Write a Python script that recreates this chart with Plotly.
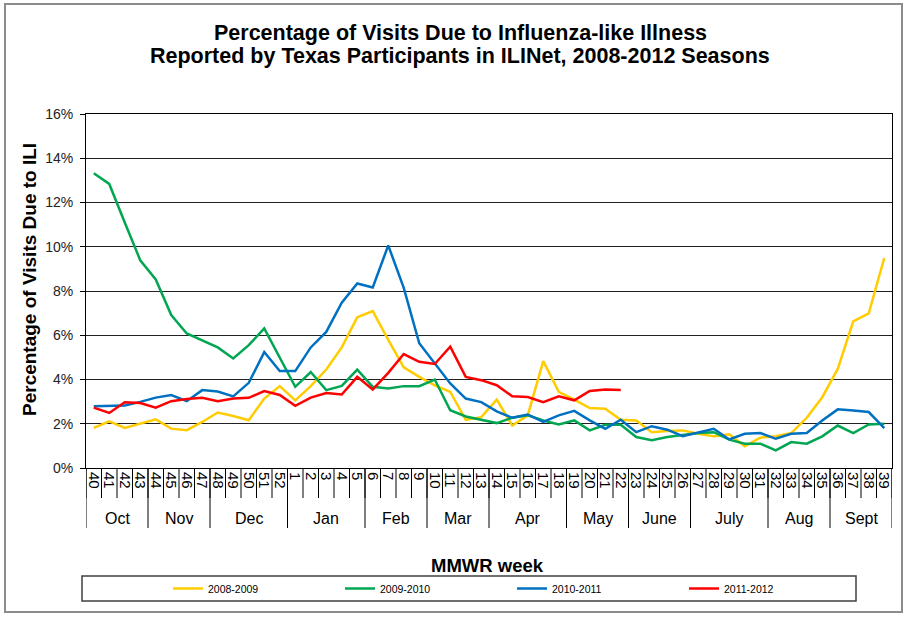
import plotly.graph_objects as go

weeks = ["40", "41", "42", "43", "44", "45", "46", "47", "48", "49", "50", "51", "52",
         "1", "2", "3", "4", "5", "6", "7", "8", "9", "10", "11", "12", "13",
         "14", "15", "16", "17", "18", "19", "20", "21", "22", "23", "24", "25", "26",
         "27", "28", "29", "30", "31", "32", "33", "34", "35", "36", "37", "38", "39"]
months = ["Oct", "Nov", "Dec", "Jan", "Feb", "Mar", "Apr", "May", "June", "July", "Aug", "Sept"]
weeks_per_month = [4, 4, 5, 5, 4, 4, 5, 4, 4, 5, 4, 4]

s0809 = [1.81, 2.11, 1.81, 2.01, 2.20, 1.78, 1.71, 2.08, 2.51, 2.35, 2.16, 3.14, 3.70,
         3.06, 3.70, 4.45, 5.45, 6.81, 7.09, 5.79, 4.55, 4.12, 3.74, 3.44, 2.18, 2.30,
         3.09, 1.92, 2.38, 4.83, 3.44, 3.09, 2.71, 2.68, 2.18, 2.15, 1.62, 1.67, 1.70,
         1.55, 1.43, 1.52, 0.98, 1.37, 1.44, 1.58, 2.27, 3.20, 4.48, 6.63, 6.99, 9.49]
s0910 = [13.32, 12.84, 11.10, 9.39, 8.52, 6.91, 6.08, 5.75, 5.45, 4.95, 5.55, 6.31, 5.00,
         3.67, 4.34, 3.52, 3.71, 4.45, 3.67, 3.59, 3.70, 3.70, 4.00, 2.61, 2.33, 2.18,
         2.03, 2.27, 2.38, 2.15, 1.97, 2.15, 1.70, 1.95, 1.95, 1.40, 1.25, 1.40, 1.50,
         1.58, 1.62, 1.28, 1.10, 1.10, 0.80, 1.17, 1.10, 1.43, 1.92, 1.58, 1.97, 2.00]
s1011 = [2.79, 2.82, 2.82, 2.99, 3.18, 3.30, 3.02, 3.52, 3.46, 3.24, 3.85, 5.24, 4.38,
         4.38, 5.45, 6.15, 7.47, 8.34, 8.16, 10.06, 8.14, 5.64, 4.73, 3.82, 3.14, 2.98,
         2.56, 2.27, 2.42, 2.08, 2.38, 2.58, 2.15, 1.77, 2.18, 1.62, 1.89, 1.73, 1.44,
         1.62, 1.77, 1.29, 1.55, 1.58, 1.32, 1.55, 1.58, 2.15, 2.65, 2.60, 2.53, 1.80]
s1112 = [2.73, 2.49, 2.97, 2.94, 2.73, 3.02, 3.12, 3.17, 3.02, 3.14, 3.17, 3.48, 3.30,
         2.81, 3.18, 3.39, 3.32, 4.12, 3.55, 4.30, 5.15, 4.80, 4.70, 5.48, 4.12, 3.97,
         3.74, 3.24, 3.21, 2.98, 3.24, 3.06, 3.48, 3.55, 3.52]

seasons = ["2008-2009", "2009-2010", "2010-2011", "2011-2012"]
colors = ["#FFCC00", "#00A651", "#0070C0", "#FF0000"]
FONT = "Liberation Sans, Arial, sans-serif"

fig = go.Figure()
for name, vals, col in zip(seasons, [s0809, s0910, s1011, s1112], colors):
    fig.add_trace(go.Scatter(x=weeks[:len(vals)], y=vals, name=name, mode="lines",
                             line=dict(color=col, width=2.5)))

# pixel -> paper helpers (plot area: x 86..892, y 114..468)
def py(Y):
    return (468 - Y) / 354.0

def px(X):
    return (X - 86) / 806.0

def note(text, x, y, size, xref="paper", angle=0):
    return dict(text=text, xref=xref, yref="paper", x=x, y=y, textangle=angle,
                xanchor="center", yanchor="middle", showarrow=False,
                font=dict(size=size, color="black", family=FONT))

shapes = []
annotations = []
# cell lines under every week
for i in range(len(weeks) + 1):
    shapes.append(dict(type="line", xref="x", yref="paper", x0=i - 0.5, x1=i - 0.5,
                       y0=0, y1=py(498), line=dict(color="black", width=1)))
# month separators + labels
pos = 0
for m, n in zip(months, weeks_per_month):
    shapes.append(dict(type="line", xref="x", yref="paper", x0=pos - 0.5, x1=pos - 0.5,
                       y0=0, y1=py(528), line=dict(color="black", width=1)))
    annotations.append(note(m, pos + (n - 1) / 2, py(518), 16, xref="x"))
    pos += n
shapes.append(dict(type="line", xref="x", yref="paper", x0=pos - 0.5, x1=pos - 0.5,
                   y0=0, y1=py(528), line=dict(color="black", width=1)))
# legend box
shapes.append(dict(type="rect", xref="paper", yref="paper", x0=px(82), x1=px(856),
                   y0=py(576), y1=py(601), line=dict(color="#404040", width=1.5)))
# outer frame
shapes.append(dict(type="rect", xref="paper", yref="paper", x0=px(5), x1=px(902),
                   y0=py(4), y1=py(612), line=dict(color="#8c8c8c", width=2)))

annotations.append(note("<b>Percentage of Visits Due to Influenza-like Illness</b>",
                        px(460), py(33), 21.5))
annotations.append(note("<b>Reported by Texas Participants in ILINet, 2008-2012 Seasons</b>",
                        px(460), py(56), 21.5))
annotations.append(note("<b>Percentage of Visits Due to ILI</b>", px(29), py(280), 19, angle=-90))
annotations.append(note("<b>MMWR week</b>", px(487), py(565), 18.5))

fig.update_layout(
    width=908, height=619,
    margin=dict(l=86, r=16, t=114, b=151),
    paper_bgcolor="white", plot_bgcolor="white",
    font=dict(family=FONT, color="black"),
    showlegend=True,
    legend=dict(orientation="h", x=px(168), y=py(588.5), xanchor="left", yanchor="middle",
                entrywidth=127, entrywidthmode="pixels", font=dict(size=10.5),
                bgcolor="rgba(0,0,0,0)", itemclick=False),
    shapes=shapes,
    annotations=annotations,
)
fig.update_xaxes(type="category", categoryorder="array", categoryarray=weeks,
                 tickmode="array", tickvals=weeks, ticktext=weeks,
                 range=[-0.5, len(weeks) - 0.5], tickangle=90, ticks="",
                 tickfont=dict(size=15), showgrid=False, showline=True,
                 linecolor="black", linewidth=1, mirror=True)
fig.update_yaxes(range=[0, 16], dtick=2, ticksuffix="%", ticks="outside", ticklen=5,
                 tickcolor="black", tickfont=dict(size=14, color="#222"),
                 ticklabelstandoff=4,
                 showgrid=True, gridcolor="#222", gridwidth=1, showline=True,
                 linecolor="black", linewidth=1, mirror=True, zeroline=False)

fig.write_html("out.html", config={"displayModeBar": False},
               post_script="document.body.style.margin='0';document.body.style.overflow='hidden';")
